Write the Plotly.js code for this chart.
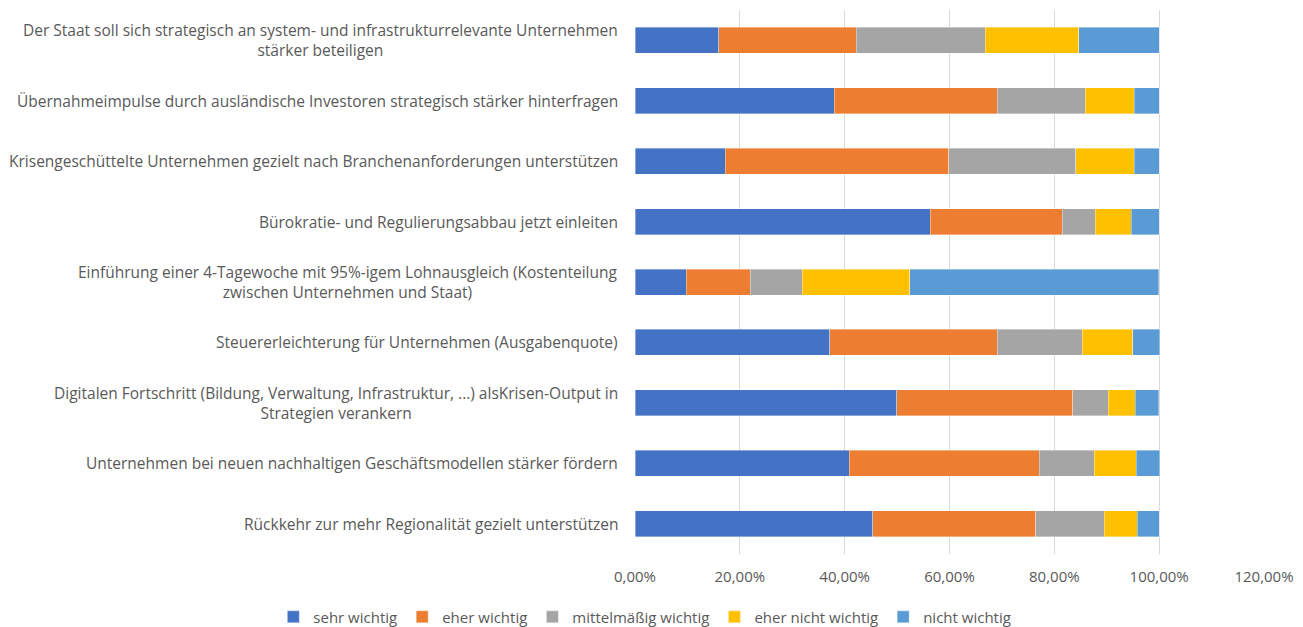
<!DOCTYPE html>
<html>
<head>
<meta charset="utf-8">
<script src="https://cdn.plot.ly/plotly-3.0.1.min.js"></script>
<style>html,body{margin:0;padding:0;background:#fff;}#chart{width:1303px;height:627px;}</style>
</head>
<body>
<div id="chart"></div>
<script>
const categories = [
  "Der Staat soll sich strategisch an system- und infrastrukturrelevante Unternehmen<br>stärker beteiligen",
  "Übernahmeimpulse durch ausländische Investoren strategisch stärker hinterfragen",
  "Krisengeschüttelte Unternehmen gezielt nach Branchenanforderungen unterstützen",
  "Bürokratie- und Regulierungsabbau jetzt einleiten",
  "Einführung einer 4-Tagewoche mit 95%-igem Lohnausgleich (Kostenteilung<br>zwischen Unternehmen und Staat)",
  "Steuererleichterung für Unternehmen (Ausgabenquote)",
  "Digitalen Fortschritt (Bildung, Verwaltung, Infrastruktur, ...) alsKrisen-Output in<br>Strategien verankern",
  "Unternehmen bei neuen nachhaltigen Geschäftsmodellen stärker fördern",
  "Rückkehr zur mehr Regionalität gezielt unterstützen"
];
const seriesNames = ["sehr wichtig", "eher wichtig", "mittelmäßig wichtig", "eher nicht wichtig", "nicht wichtig"];
const sehrWichtig       = [0.160, 0.380, 0.172, 0.563, 0.098, 0.372, 0.499, 0.409, 0.454];
const eherWichtig       = [0.262, 0.311, 0.427, 0.252, 0.122, 0.319, 0.336, 0.362, 0.311];
const mittelmaessig     = [0.246, 0.168, 0.242, 0.063, 0.099, 0.162, 0.068, 0.105, 0.130];
const eherNichtWichtig  = [0.179, 0.093, 0.111, 0.069, 0.205, 0.097, 0.051, 0.080, 0.063];
const nichtWichtig      = [0.153, 0.048, 0.048, 0.053, 0.475, 0.051, 0.045, 0.045, 0.042];
const tickValues = [0, 0.2, 0.4, 0.6, 0.8, 1.0, 1.2];
const tickLabels = ["0,00%", "20,00%", "40,00%", "60,00%", "80,00%", "100,00%", "120,00%"];

const colors = ["#4472C4", "#ED7D31", "#A5A5A5", "#FFC000", "#5B9BD5"];
const seriesValues = [sehrWichtig, eherWichtig, mittelmaessig, eherNichtWichtig, nichtWichtig];

const traces = seriesValues.map((vals, i) => ({
  type: "bar",
  orientation: "h",
  name: seriesNames[i],
  y: categories,
  x: vals,
  marker: { color: colors[i], line: { color: "rgba(255,255,255,0.6)", width: 0.6 } },
  hoverinfo: "x+name"
}));

const font = "Open Sans, Liberation Sans, Arial, sans-serif";
const annotations = categories.map(c => ({
  xref: "paper", yref: "y", x: 0, y: c,
  xanchor: "right", yanchor: "middle", xshift: -15,
  text: c, showarrow: false, align: "center",
  font: { family: font, size: 15.5, color: "#595959" }
}));

const layout = {
  barmode: "stack",
  bargap: 0.57,
  width: 1303, height: 627,
  margin: { l: 635, r: 39, t: 10, b: 73, autoexpand: false },
  paper_bgcolor: "#fff", plot_bgcolor: "#fff",
  font: { family: font, size: 14, color: "#595959" },
  xaxis: {
    range: [0, 1.2], tickvals: tickValues, ticktext: tickLabels,
    showgrid: true, gridcolor: "#D9D9D9", gridwidth: 1,
    zeroline: false, showline: false, ticks: "", ticklen: 0,
    ticklabelstandoff: 12, automargin: false,
    tickfont: { family: font, size: 15, color: "#595959" },
    fixedrange: true
  },
  yaxis: {
    type: "category", autorange: "reversed",
    showticklabels: false, showgrid: false, zeroline: false, showline: false, ticks: "",
    fixedrange: true
  },
  annotations: annotations,
  showlegend: true,
  legend: {
    orientation: "h",
    x: -0.575, xanchor: "left", y: -0.116, yanchor: "middle",
    font: { family: font, size: 15, color: "#595959" },
    traceorder: "normal", itemwidth: 30
  }
};

Plotly.newPlot("chart", traces, layout, { displayModeBar: false, staticPlot: true });
</script>
</body>
</html>
